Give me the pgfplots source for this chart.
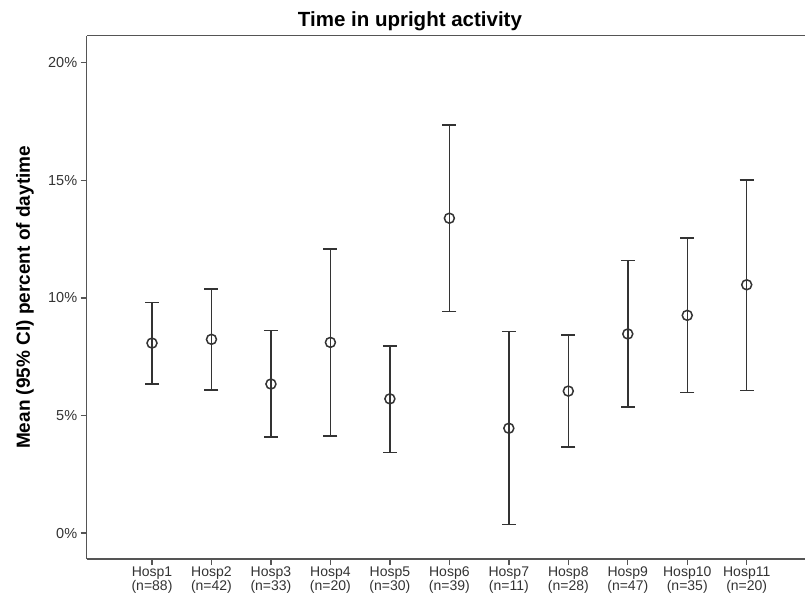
\documentclass[border=0pt]{standalone}
\usepackage{fontspec}
\setmainfont{Liberation Sans}
\usepackage{pgfplots}
\pgfplotsset{compat=1.18}
\usepackage{pgfplotstable}

\definecolor{ink}{HTML}{333333}
\definecolor{axisgray}{HTML}{555555}

\pgfplotstableread{
x lo mean hi
0 6.35 8.08 9.81
1 6.09 8.24 10.37
2 4.08 6.34 8.62
3 4.14 8.11 12.07
4 3.43 5.71 7.95
5 9.43 13.39 17.35
6 0.37 4.46 8.58
7 3.67 6.04 8.43
8 5.36 8.47 11.59
9 5.98 9.26 12.54
10 6.07 10.56 15.02
}\data

\begin{document}
\begin{tikzpicture}
\begin{axis}[
  at={(86.7pt,-35.7pt)}, anchor=north west,
  scale only axis, width=718.3pt, height=523.3pt,
  xmin=-1.098, xmax=10.98,
  ymin=-1.1, ymax=21.15,
  axis x line=box, axis y line=left,
  y axis line style={-},
  axis line style={axisgray, line width=1.5pt},
  xtick={0,...,10}, xtick pos=bottom, ytick pos=left,
  xticklabels={{Hosp1\\(n=88)},{Hosp2\\(n=42)},{Hosp3\\(n=33)},{Hosp4\\(n=20)},{Hosp5\\(n=30)},{Hosp6\\(n=39)},{Hosp7\\(n=11)},{Hosp8\\(n=28)},{Hosp9\\(n=47)},{Hosp10\\(n=35)},{Hosp11\\(n=20)}},
  ytick={0,5,10,15,20},
  yticklabels={0\%,5\%,10\%,15\%,20\%},
  tick align=outside, major tick length=6pt,
  tick style={axisgray, line width=1.4pt},
  xticklabel style={align=center, font=\fontsize{14}{14}\selectfont, text=ink, inner sep=2pt},
  yticklabel style={font=\fontsize{14.5}{16}\selectfont, text=ink},
  title={Time in upright activity},
  title style={font=\bfseries\fontsize{20.5}{24}\selectfont, at={(axis description cs:0.45,1)}, anchor=base, yshift=3.3pt, text=black},
  ylabel={Mean (95\% CI) percent of daytime},
  ylabel style={font=\bfseries\fontsize{19}{22}\selectfont, at={(axis description cs:-0.0859,0.5)}, anchor=center, rotate=0},
]
\addplot[only marks, mark=o, mark size=5pt, color=ink, line width=1.5pt,
  error bars/.cd, y dir=both, y explicit,
  error bar style={line width=1.5pt, ink},
  error mark options={rotate=90, mark size=7pt, line width=1.6pt, ink}]
  table[x=x, y=mean, y error plus expr=\thisrow{hi}-\thisrow{mean}, y error minus expr=\thisrow{mean}-\thisrow{lo}] {\data};
\end{axis}
\pgfresetboundingbox
\path (0,0) rectangle (805pt,-600pt);
\end{tikzpicture}
\end{document}
